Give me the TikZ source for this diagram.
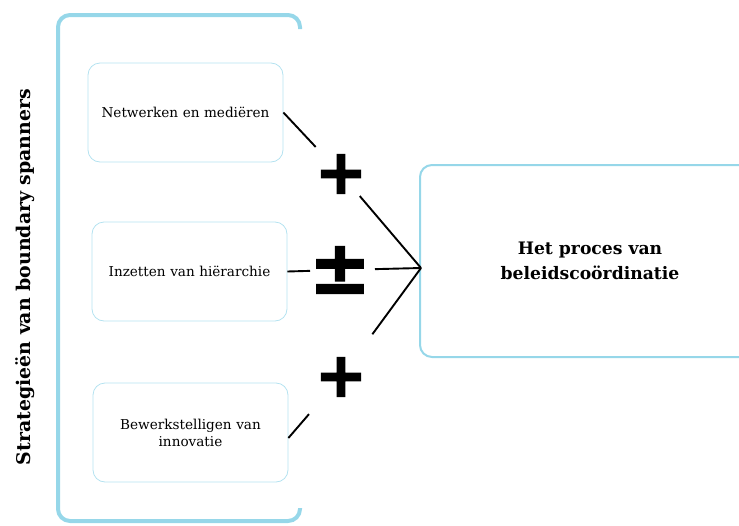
\documentclass[tikz,border=0pt]{standalone}
\usepackage{fontspec}
\setmainfont{DejaVu Serif}
\newfontfamily\signfont[FakeBold=2.2]{DejaVu Sans}
\usepackage{tikz}
\usetikzlibrary{positioning}

\definecolor{frameblue}{RGB}{150,215,233}
\definecolor{boxblue}{RGB}{180,226,240}

\begin{document}
\begin{tikzpicture}[
    x=1pt, y=-1pt,
    every node/.style={font=\fontsize{13.6}{17}\selectfont},
    strat/.style={draw=boxblue, line width=.8pt, rounded corners=12pt,
      minimum width=195pt, minimum height=99pt, align=center, text width=180pt},
    target/.style={draw=frameblue, line width=2pt, rounded corners=12pt,
      minimum width=340pt, minimum height=192pt, align=center,
      font=\fontsize{17.2}{25}\selectfont\bfseries},
    sign/.style={inner sep=0pt, font=\signfont\bfseries\fontsize{62}{62}\selectfont},
    link/.style={line width=1.9pt, draw=black}
  ]
    \useasboundingbox (0,0) rectangle (739,525);
    % bracket round the strategies
    \draw[frameblue, line width=4pt, rounded corners=12pt]
      (300,29) -- (300,15) -- (58,15) -- (58,521) -- (300,521) -- (300,508);
    \node[rotate=90, font=\fontsize{18.9}{22}\selectfont\bfseries] (side) at (25,277)
      {Strategieën van boundary spanners};

    \node[strat] (netwerk) at (185.5,112.5) {Netwerken en mediëren};
    \node[strat] (hierarch) at (189.5,271.5) {Inzetten van hiërarchie};
    \node[strat] (innov) at (190.5,432.5) {Bewerkstelligen van\\innovatie};
    \node[target] (proces) at (590,261) {Het proces van\\beleidscoördinatie};
    \coordinate (hub) at (421,268);

    \node[sign] (plusa) at (341,174) {+};
    \node[sign, font=\signfont\bfseries\fontsize{74}{74}\selectfont] (pm) at (340,270) {±};
    \node[sign] (plusb) at (341,377) {+};

    \draw[link, shorten >=30pt] (hierarch.east) -- (pm.center);
    \draw[link, shorten <=35pt] (pm.center) -- (hub);
    \draw[link, shorten >=37pt] (netwerk.east) -- (plusa.center);
    \draw[link, shorten <=29pt] (plusa.center) -- (hub);
    \draw[link, shorten >=49pt] ([yshift=-5.5pt]innov.east) -- (plusb.center);
    \draw[link, shorten <=53pt] (plusb.center) -- (hub);
\end{tikzpicture}
\end{document}
